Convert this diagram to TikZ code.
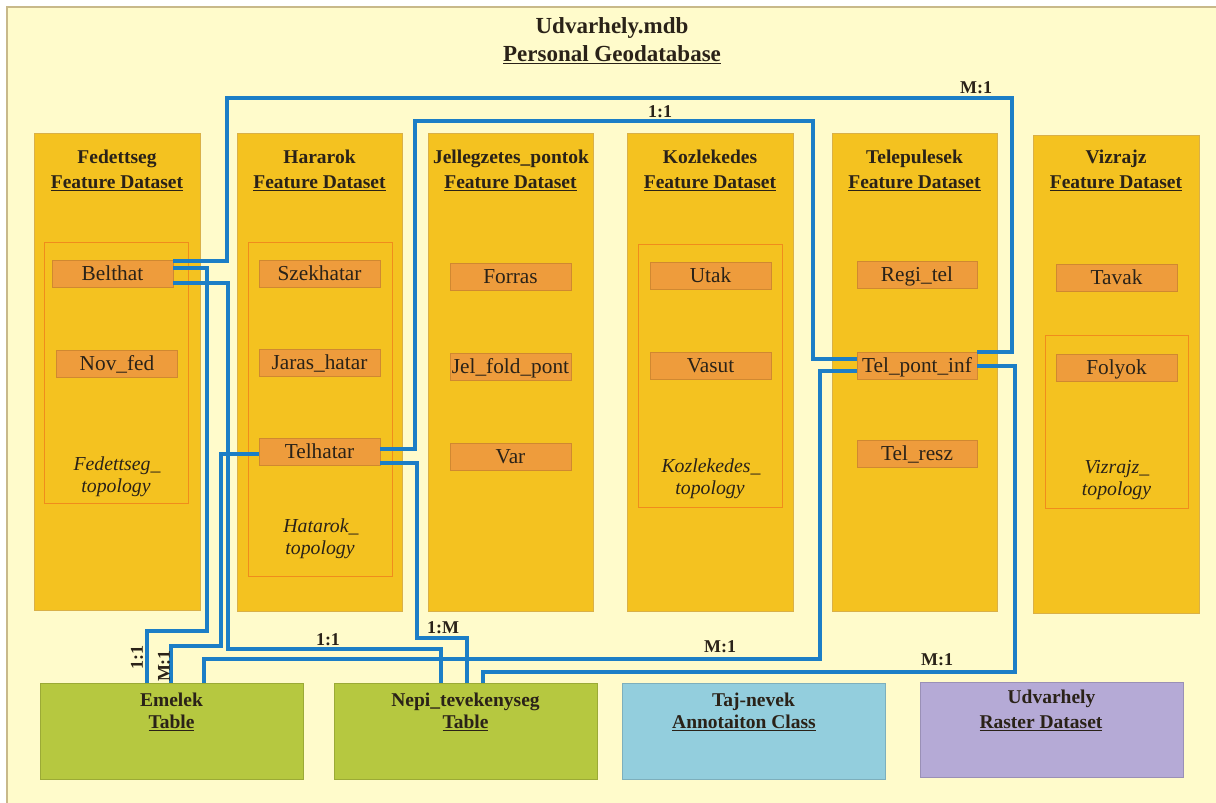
\documentclass[tikz,border=0pt]{standalone}
\usepackage{fontspec}
\setmainfont{Liberation Serif}
\definecolor{bgc}{HTML}{FFFBCB}
\definecolor{framec}{HTML}{C8B98A}
\definecolor{dsfill}{HTML}{F4C220}
\definecolor{dsdraw}{HTML}{D9B048}
\definecolor{fcfill}{HTML}{EE9C3C}
\definecolor{fcdraw}{HTML}{D08830}
\definecolor{topoc}{HTML}{F08C1C}
\definecolor{linkc}{HTML}{1C7EC6}
\definecolor{txtc}{HTML}{2A2218}
\definecolor{tgreen}{HTML}{B6C840}
\definecolor{tblue}{HTML}{93CEDD}
\definecolor{tpurple}{HTML}{B5AAD6}
\newcommand\myul[1]{\setbox0\hbox{#1}\rlap{\rule[-2.8pt]{\wd0}{1.3pt}}\box0}
\tikzset{
  dsbox/.style={draw=dsdraw, fill=dsfill, line width=0.8pt, inner sep=0pt},
  topobox/.style={draw=topoc, line width=0.8pt, inner sep=0pt},
  fcbox/.style={draw=fcdraw, fill=fcfill, line width=0.8pt, inner sep=0pt,
    minimum width=121pt, minimum height=27pt, text height=14pt, text depth=0pt,
    text=txtc, font=\fontsize{21.3}{23}\selectfont},
  tblbox/.style={line width=0.8pt, inner sep=0pt, minimum width=263pt, minimum height=96pt},
  ttl/.style={anchor=base, inner sep=0pt, text=txtc, font=\fontsize{19.5}{22}\selectfont\bfseries},
  topotxt/.style={anchor=base, inner sep=0pt, text=txtc, font=\fontsize{19.8}{22}\selectfont\itshape},
  maintxt/.style={anchor=base, inner sep=0pt, text=txtc, font=\fontsize{23}{26}\selectfont\bfseries},
  card/.style={inner sep=0pt, text=txtc, font=\fontsize{18}{20}\selectfont\bfseries},
  link/.style={draw=linkc, line width=3.5pt, line join=miter},
}
\begin{document}
\begin{tikzpicture}[x=1pt,y=-1pt]
\useasboundingbox (0,0) rectangle (1216,803);
\fill[white] (0,0) rectangle (1216,803);
\fill[bgc] (7,7) rectangle (1216,803);
\draw[framec, line width=1.2pt] (7,803) -- (7,7) -- (1216,7);

% title
\node[maintxt] (mt1) at (612,34) {Udvarhely.mdb};
\node[maintxt] (mt2) at (612,61) {\myul{Personal Geodatabase}};

% feature datasets
\node[dsbox, minimum width=166pt, minimum height=477pt] (fed) at (117,371.5) {};
\node[dsbox, minimum width=165pt, minimum height=478pt] (har) at (319.5,372) {};
\node[dsbox, minimum width=165pt, minimum height=478pt] (jel) at (510.5,372) {};
\node[dsbox, minimum width=166pt, minimum height=478pt] (koz) at (710,372) {};
\node[dsbox, minimum width=165pt, minimum height=478pt] (tel) at (914.5,372) {};
\node[dsbox, minimum width=166pt, minimum height=478pt] (viz) at (1116,374) {};

\node[ttl] (fedt1) at (117,163) {Fedettseg};
\node[ttl] (fedt2) at (117,188) {\myul{Feature Dataset}};
\node[ttl] (hart1) at (319.5,163) {Hararok};
\node[ttl] (hart2) at (319.5,188) {\myul{Feature Dataset}};
\node[ttl] (jelt1) at (511,163) {Jellegzetes\_pontok};
\node[ttl] (jelt2) at (510.5,188) {\myul{Feature Dataset}};
\node[ttl] (kozt1) at (710,163) {Kozlekedes};
\node[ttl] (kozt2) at (710,188) {\myul{Feature Dataset}};
\node[ttl] (telt1) at (914.5,163) {Telepulesek};
\node[ttl] (telt2) at (914.5,188) {\myul{Feature Dataset}};
\node[ttl] (vizt1) at (1116,163) {Vizrajz};
\node[ttl] (vizt2) at (1116,188) {\myul{Feature Dataset}};

% topologies
\node[topobox, minimum width=144pt, minimum height=261pt] (fedtopo) at (116,372.5) {};
\node[topobox, minimum width=144pt, minimum height=334pt] (hartopo) at (320,409) {};
\node[topobox, minimum width=144pt, minimum height=263pt] (koztopo) at (710,375.5) {};
\node[topobox, minimum width=143pt, minimum height=173pt] (viztopo) at (1116.5,421.5) {};

\node[topotxt] (fedtp1) at (117,470) {Fedettseg\_};
\node[topotxt] (fedtp2) at (116,492) {topology};
\node[topotxt] (hartp1) at (321,532) {Hatarok\_};
\node[topotxt] (hartp2) at (320,554) {topology};
\node[topotxt] (koztp1) at (711,472) {Kozlekedes\_};
\node[topotxt] (koztp2) at (710,494) {topology};
\node[topotxt] (viztp1) at (1117,473) {Vizrajz\_};
\node[topotxt] (viztp2) at (1116.5,495) {topology};

% feature classes
\node[fcbox] (belthat) at (112.5,273.5) {Belthat};
\node[fcbox] (novfed) at (117,363.5) {Nov\_fed};
\node[fcbox] (szek) at (319.5,273.5) {Szekhatar};
\node[fcbox] (jaras) at (319.5,362.5) {Jaras\_hatar};
\node[fcbox] (telhatar) at (319.5,451.5) {Telhatar};
\node[fcbox] (forras) at (510.5,276.5) {Forras};
\node[fcbox] (jelfold) at (510.5,366.5) {Jel\_fold\_pont};
\node[fcbox] (var) at (510.5,456.5) {Var};
\node[fcbox] (utak) at (710.5,275.5) {Utak};
\node[fcbox] (vasut) at (710.5,365.5) {Vasut};
\node[fcbox, minimum width=120pt] (regitel) at (917,274.5) {Regi\_tel};
\node[fcbox, minimum width=120pt] (telpont) at (917,365.5) {Tel\_pont\_inf};
\node[fcbox, minimum width=120pt] (telresz) at (917,453.5) {Tel\_resz};
\node[fcbox] (tavak) at (1116.5,277.5) {Tavak};
\node[fcbox] (folyok) at (1116.5,367.5) {Folyok};

% tables
\node[tblbox, draw=tgreen!85!black, fill=tgreen] (emelek) at (171.5,731) {};
\node[tblbox, draw=tgreen!85!black, fill=tgreen] (nepi) at (465.5,731) {};
\node[tblbox, draw=tblue!85!black, fill=tblue] (taj) at (753.5,731) {};
\node[tblbox, draw=tpurple!85!black, fill=tpurple, minimum height=95pt] (udv) at (1051.5,729.5) {};

\node[ttl] (emt1) at (171.5,706) {Emelek};
\node[ttl] (emt2) at (171.5,728) {\myul{Table}};
\node[ttl] (nept1) at (465.5,706) {Nepi\_tevekenyseg};
\node[ttl] (nept2) at (465.5,728) {\myul{Table}};
\node[ttl] (tajt1) at (753.5,706) {Taj-nevek};
\node[ttl] (tajt2) at (744,728) {\myul{Annotaiton Class}};
\node[ttl] (udvt1) at (1051.5,703) {Udvarhely};
\node[ttl] (udvt2) at (1041,728) {\myul{Raster Dataset}};

% connectors
\draw[link] (belthat.east |- 0,261) -| (227,98) -| (1012,352) -- (telpont.east |- 0,352);
\draw[link] (telhatar.east |- 0,449) -| (415,121) -| (813,359) -- (telpont.west |- 0,359);
\draw[link] (belthat.east |- 0,268) -| (207,631) -| (emelek.north -| 147,0);
\draw[link] (belthat.east |- 0,283) -| (228,649) -| (nepi.north -| 441,0);
\draw[link] (telhatar.west |- 0,454) -| (221,646) -| (emelek.north -| 171,0);
\draw[link] (telhatar.east |- 0,463) -| (417,638) -| (nepi.north -| 467,0);
\draw[link] (telpont.west |- 0,371) -| (820,659) -| (emelek.north -| 204,0);
\draw[link] (telpont.east |- 0,366) -| (1015,672) -| (nepi.north -| 483,0);

% cardinalities
\node[card] (l1) at (976,88) {M:1};
\node[card] (l2) at (660,112) {1:1};
\node[card, rotate=90] (l3) at (137,657) {1:1};
\node[card, rotate=90] (l4) at (164,666) {M:1};
\node[card] (l5) at (328,640) {1:1};
\node[card] (l6) at (443,628) {1:M};
\node[card] (l7) at (720,647) {M:1};
\node[card] (l8) at (937,660) {M:1};
\end{tikzpicture}
\end{document}
